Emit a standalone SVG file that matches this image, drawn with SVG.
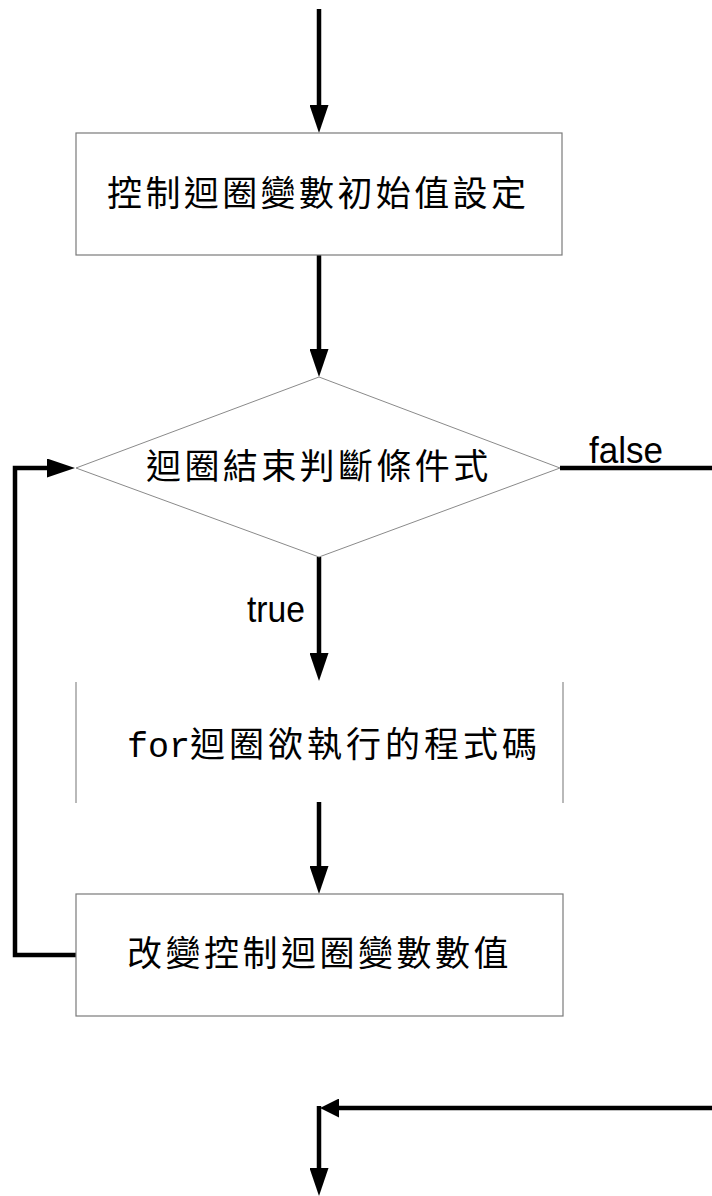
<svg xmlns="http://www.w3.org/2000/svg" width="712" height="1196" viewBox="0 0 712 1196">
<style>
.box{fill:#fff;stroke:#7a7a7a;stroke-width:1.2}
.dia{fill:#fff;stroke:#8a8a8a;stroke-width:1}
.side{stroke:#8a8a8a;stroke-width:1.2}
.cjk{font-family:"Noto Sans CJK TC","Noto Sans CJK SC",sans-serif;font-size:35px;fill:#000;letter-spacing:3.4px}
.mono{font-family:"Liberation Mono",monospace;font-size:35px;letter-spacing:0}
.lbl{font-family:"Liberation Sans",Arial,sans-serif;font-size:37px;fill:#000}
.con{fill:none;stroke:#000;stroke-width:4.5;stroke-linejoin:miter}
</style>
<defs>
<marker id="ah" markerUnits="userSpaceOnUse" markerWidth="28" markerHeight="19" viewBox="0 0 28 19" refX="0" refY="9.5" orient="auto">
<path d="M0,0 L28,9.5 L0,19 z" fill="#000"/>
</marker>
<marker id="ahs" markerUnits="userSpaceOnUse" markerWidth="19" markerHeight="19" viewBox="0 0 19 19" refX="0" refY="9.5" orient="auto">
<path d="M0,0 L19,9.5 L0,19 z" fill="#000"/>
</marker>
</defs>
<rect width="712" height="1196" fill="#fff"/>
<g id="connectors">
<path class="con" d="M319,9 V105" marker-end="url(#ah)"/>
<path class="con" d="M319,255 V349" marker-end="url(#ah)"/>
<path class="con" d="M319,557 V653" marker-end="url(#ah)"/>
<path class="con" d="M319,802 V866" marker-end="url(#ah)"/>
<path class="con" d="M76,955 H15 V468 H47" marker-end="url(#ah)"/>
<path class="con" d="M560,468 H712"/>
<path class="con" d="M712,1108 H339" marker-end="url(#ahs)"/>
<path class="con" d="M319,1106 V1168" marker-end="url(#ah)"/>
<text class="lbl" x="589" y="463" textLength="74" lengthAdjust="spacingAndGlyphs">false</text>
<text class="lbl" x="247" y="622" textLength="58" lengthAdjust="spacingAndGlyphs">true</text>
</g>
<g id="init">
<rect class="box" x="76" y="133" width="486" height="122"/>
<text class="cjk" x="107" y="206">控制迴圈變數初始值設定</text>
</g>
<g id="cond">
<polygon class="dia" points="319,377 560,468 319,557 76,468"/>
<text class="cjk" x="146" y="479">迴圈結束判斷條件式</text>
</g>
<g id="body">
<line class="side" x1="76" y1="682" x2="76" y2="803"/>
<line class="side" x1="563" y1="682" x2="563" y2="803"/>
<text class="cjk" x="127" y="757"><tspan class="mono">for</tspan><tspan x="190" style="letter-spacing:4px">迴圈欲執行的程式碼</tspan></text>
</g>
<g id="update">
<rect class="box" x="76" y="894" width="487" height="122"/>
<text class="cjk" x="127" y="966" style="letter-spacing:3.5px">改變控制迴圈變數數值</text>
</g>
</svg>
